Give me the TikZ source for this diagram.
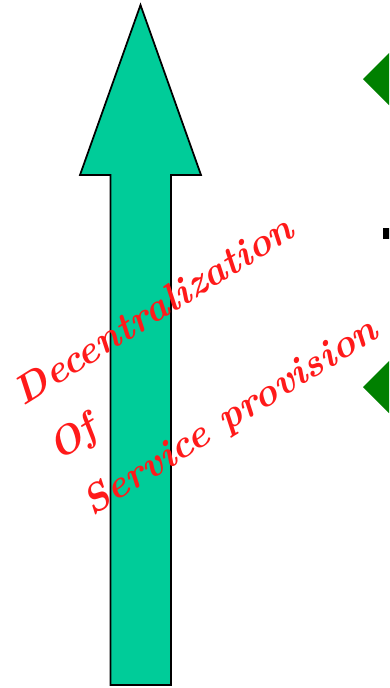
\documentclass[tikz,border=0pt]{standalone}
\usepackage{xcolor}
\usepackage{tikz}
\usetikzlibrary{shapes,positioning}

\definecolor{ArrowGreen}{HTML}{00CC99}
\definecolor{BulletGreen}{HTML}{008000}
\definecolor{TextRed}{HTML}{FF1A1A}

\begin{document}
\begin{tikzpicture}
  \clip (0,0) rectangle (7.78,-13.76);
  \draw[fill=ArrowGreen,line width=1pt,line join=miter]
    (2.21,-13.70) -- (2.21,-3.50) -- (1.60,-3.50) -- (2.81,-0.10)
    -- (4.02,-3.50) -- (3.42,-3.50) -- (3.42,-13.70) -- cycle;
  
  \fill[BulletGreen] (7.26,-1.58) -- (7.78,-1.06) -- (8.30,-1.58) -- (7.78,-2.10) -- cycle;
  \fill[black]       (7.66,-4.56) rectangle (7.80,-4.78);
  \fill[BulletGreen] (7.26,-7.74) -- (7.78,-7.22) -- (8.30,-7.74) -- (7.78,-8.26) -- cycle;
  
  \node[anchor=center,rotate=32,align=left,text=TextRed,
        font=\bfseries\itshape\fontsize{22.5}{37}\selectfont] (label) at (3.94,-7.26)
        {Decentralization\\Of\\Service provision};
\end{tikzpicture}
\end{document}
